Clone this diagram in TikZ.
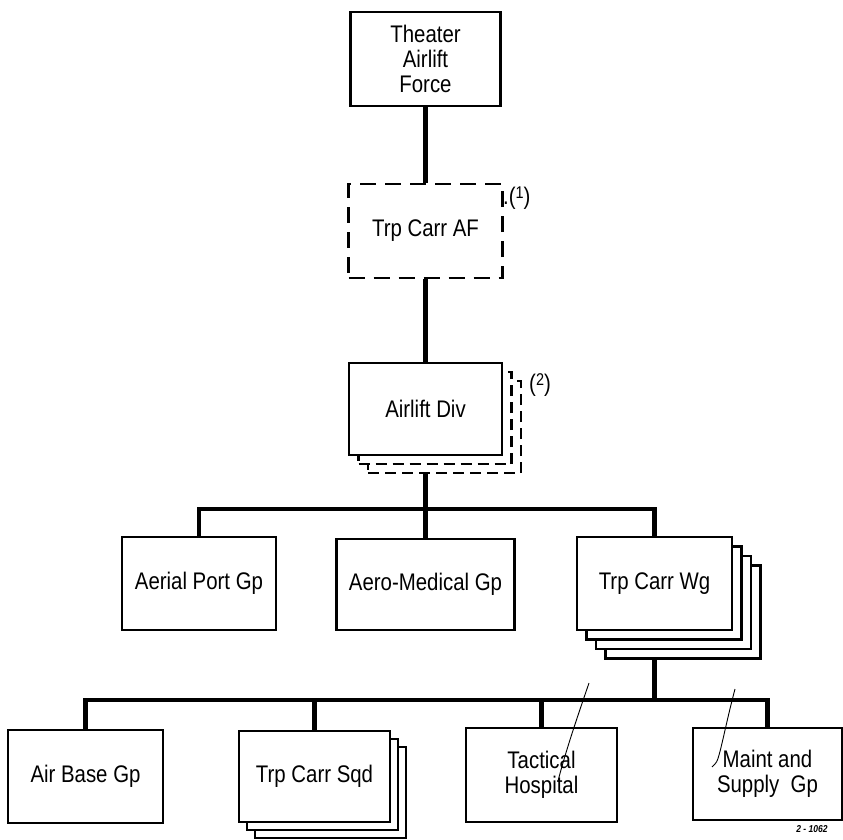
\documentclass[tikz,border=0pt]{standalone}
\usepackage{fontspec}
\setmainfont[FakeStretch=0.85]{Liberation Sans}
\usetikzlibrary{backgrounds}
\begin{document}
\begin{tikzpicture}[x=1pt,y=-1pt,
  box/.style={draw, line width=2.4pt, fill=white, inner sep=0pt, align=center,
    font=\fontsize{24}{25}\selectfont},
  dsh/.style={dash pattern=on 16pt off 9pt},
  sdsh/.style={dash pattern=on 11pt off 6pt},
  conn/.style={line width=4.4pt},
  stray/.style={line width=0.9pt},
  note/.style={inner sep=0pt, anchor=west, font=\fontsize{24}{24}\selectfont}]
\useasboundingbox (0,0) rectangle (843,840);

% top chain
\node[box, minimum width=150, minimum height=94] (taf) at (425.5,59) {Theater\\Airlift\\Force};
\node[box, dsh, minimum width=154, minimum height=94] (tca) at (425.5,231) {Trp Carr AF};
\node[note] (n1) at (503,198) {.(\raisebox{6pt}{\fontsize{17}{17}\selectfont 1})};

% Airlift Div stack
\node[box, sdsh, minimum width=153, minimum height=92] (ad2) at (444.5,427) {};
\node[box, sdsh, minimum width=153, minimum height=92] (ad1) at (435,418) {};
\node[box, minimum width=153, minimum height=92] (ad) at (425.5,409) {Airlift Div};
\node[note] (n2) at (529,385) {(\raisebox{6pt}{\fontsize{17}{17}\selectfont 2})};

% middle row
\node[box, minimum width=154, minimum height=93] (apg) at (199,583.5) {Aerial Port Gp};
\node[box, minimum width=178, minimum height=91] (amg) at (425.5,584.5) {Aero-Medical Gp};
\node[box, minimum width=155, minimum height=93] (tcw3) at (683,612) {};
\node[box, minimum width=155, minimum height=93] (tcw2) at (673.5,602.5) {};
\node[box, minimum width=155, minimum height=93] (tcw1) at (664,593) {};
\node[box, minimum width=155, minimum height=93] (tcw) at (654.5,583.5) {Trp Carr Wg};

% bottom row
\node[box, minimum width=155, minimum height=93] (abg) at (85.5,776.5) {Air Base Gp};
\node[box, minimum width=151, minimum height=91] (tcs2) at (330.5,792.5) {};
\node[box, minimum width=151, minimum height=91] (tcs1) at (322.5,784.5) {};
\node[box, minimum width=151, minimum height=91] (tcs) at (314.5,776.5) {Trp Carr Sqd};
\node[box, minimum width=151, minimum height=94] (th) at (541.5,775) {Tactical\\Hospital};
\node[box, minimum width=149, minimum height=92] (msg) at (767.5,774) {Maint and\\Supply~~Gp};

\node[inner sep=0pt, font=\fontsize{10}{10}\selectfont\bfseries\itshape] (code) at (812,829) {2 - 1062};

% connectors
\coordinate (b1) at (425.5,509);
\coordinate (b2) at (659,700);
\begin{scope}[on background layer]
  \draw[conn] (taf.south) -- (tca.north);
  \draw[conn] (tca.south) -- (ad.north);
  \draw[conn] (ad.center) -- (amg.center);
  \draw[conn] (apg.north) |- (b1) -| (tcw.north);
  \draw[conn] (tcw.center) -- (tcw.center |- b2);
  \draw[conn] (abg.north) |- (b2) -| (msg.north);
  \draw[conn] (tcs.north) -- (tcs.north |- b2);
  \draw[conn] (th.north) -- (th.north |- b2);
\end{scope}

% stray pen marks
\draw[stray] (589,683) .. controls (578,715) and (566,750) .. (558,781);
\draw[stray] (735,689) .. controls (728,715) and (722,745) .. (719,755) .. controls (717,762) .. (712,767);
\end{tikzpicture}
\end{document}
